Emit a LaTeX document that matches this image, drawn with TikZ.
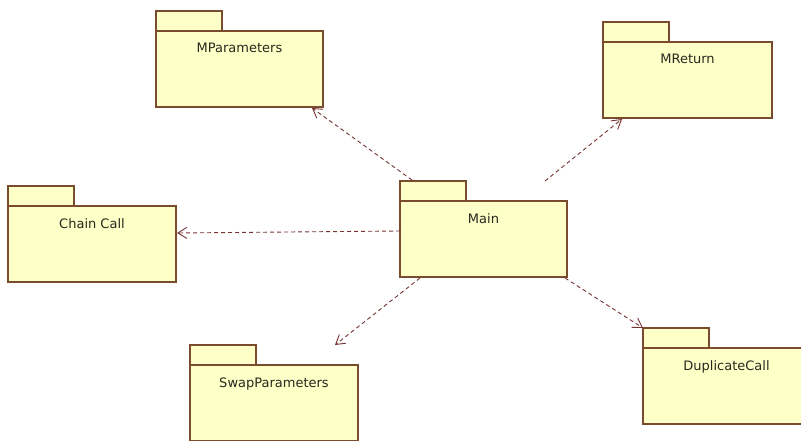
\documentclass[tikz,border=0pt]{standalone}
\usepackage{fontspec}
\setmainfont{DejaVu Sans}
\usetikzlibrary{arrows.meta,calc}
\definecolor{pkgfill}{RGB}{255,255,200}
\definecolor{pkgline}{RGB}{120,76,44}
\definecolor{deplink}{RGB}{120,52,52}
\definecolor{pkgtext}{RGB}{40,40,30}
\tikzset{
  pkgbody/.style={draw=pkgline, fill=pkgfill, line width=1.2pt, minimum width=167pt,
    minimum height=76pt, inner sep=0pt, outer sep=0pt, anchor=north west},
  pkgtab/.style={draw=pkgline, fill=pkgfill, line width=1.2pt, minimum width=66pt,
    minimum height=20pt, inner sep=0pt, outer sep=0pt, anchor=south west},
  pkgname/.style={font=\fontsize{13}{15}\selectfont, text=pkgtext, inner sep=0pt, anchor=base},
  dep/.style={draw=deplink, line width=0.9pt, dash pattern=on 4pt off 3pt,
    -{Straight Barb[length=9pt,width=11pt]}}
}
\begin{document}
\begin{tikzpicture}[x=1pt,y=-1pt]
  \useasboundingbox[fill=white] (0,0) rectangle (801,441);

  % packages: tab, body, name
  \node[pkgtab] (maintab) at (400,201) {};
  \node[pkgbody] (main) at (400,201) {};
  \node[pkgname] (mainname) at ($(main.north)+(0,22)$) {Main};

  \node[pkgtab] (mpartab) at (156,31) {};
  \node[pkgbody] (mpar) at (156,31) {};
  \node[pkgname] (mparname) at ($(mpar.north)+(0,22)$) {MParameters};

  \node[pkgtab] (mrettab) at (603,42) {};
  \node[pkgbody, minimum width=169pt] (mret) at (603,42) {};
  \node[pkgname] (mretname) at ($(mret.north)+(0,22)$) {MReturn};

  \node[pkgtab] (chaintab) at (8,206) {};
  \node[pkgbody, minimum width=168pt] (chain) at (8,206) {};
  \node[pkgname] (chainname) at ($(chain.north)+(0,22)$) {Chain Call};

  \node[pkgtab] (swaptab) at (190,365) {};
  \node[pkgbody, minimum width=168pt] (swap) at (190,365) {};
  \node[pkgname] (swapname) at ($(swap.north)+(0,22)$) {SwapParameters};

  \node[pkgtab] (duptab) at (643,348) {};
  \node[pkgbody] (dup) at (643,348) {};
  \node[pkgname] (dupname) at ($(dup.north)+(0,22)$) {DuplicateCall};

  % dependency ends
  \coordinate (mparfrom) at ($(maintab.north west)+(12,-1)$);
  \coordinate (mparto) at ($(mpar.south east)+(-11,1)$);
  \coordinate (mretfrom) at ($(main.north east)+(-22,-20)$);
  \coordinate (mretto) at ($(mret.south west)+(19,1)$);
  \coordinate (chainfrom) at ($(main.north west)+(0,30)$);
  \coordinate (chainto) at ($(chain.north east)+(1,27)$);
  \coordinate (swapfrom) at ($(main.south west)+(20,1)$);
  \coordinate (swapto) at ($(swap.north west)+(145,-20)$);
  \coordinate (dupfrom) at ($(main.south east)+(-2,1)$);
  \coordinate (dupto) at (duptab.north west);

  % dependencies
  \draw[dep] (mparfrom) -- (mparto);
  \draw[dep] (mretfrom) -- (mretto);
  \draw[dep] (chainfrom) -- (chainto);
  \draw[dep] (swapfrom) -- (swapto);
  \draw[dep] (dupfrom) -- (dupto);
\end{tikzpicture}
\end{document}
